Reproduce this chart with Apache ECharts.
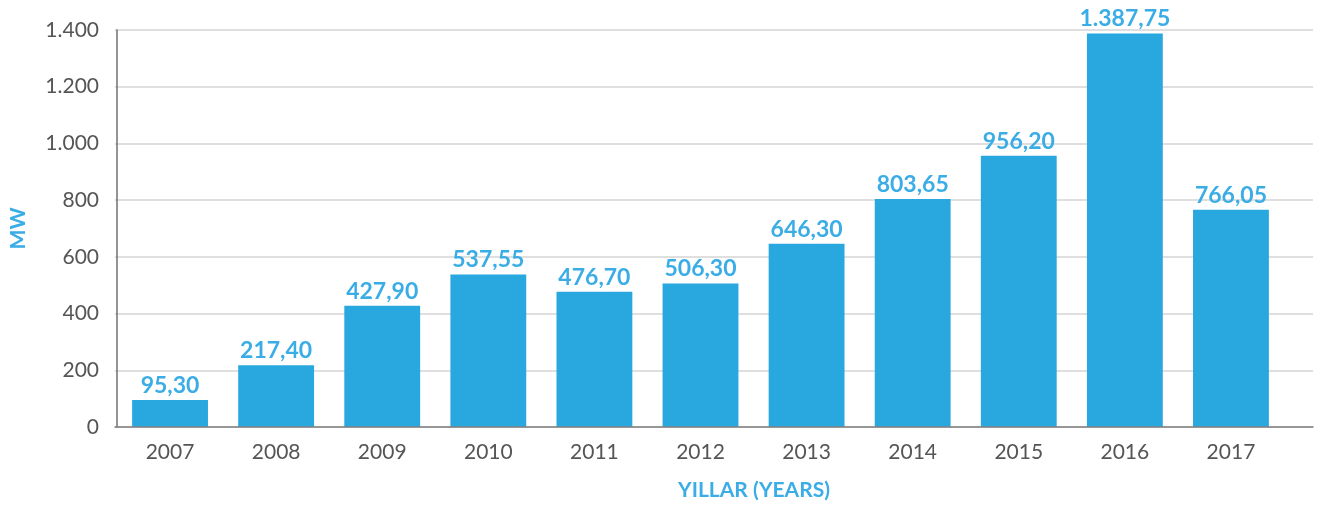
<!DOCTYPE html>
<html>
<head>
<meta charset="utf-8">
<script src="https://cdn.jsdelivr.net/npm/echarts@6/dist/echarts.min.js"></script>
<style>
  html, body { margin: 0; padding: 0; background: #fff; }
  #chart { width: 1323px; height: 509px; }
</style>
</head>
<body>
<div id="chart"></div>
<script>
const years = ['2007', '2008', '2009', '2010', '2011', '2012', '2013', '2014', '2015', '2016', '2017']
const capacity = [95.30, 217.40, 427.90, 537.55, 476.70, 506.30, 646.30, 803.65, 956.20, 1387.75, 766.05]
const blue = '#29a8e0'
const labelBlue = '#3aade6'

// turkish style numbers: 1.387,75
const fmtTr = (v, dec) => {
  let parts = Number(v).toFixed(dec).split('.')
  parts[0] = parts[0].replace(/\B(?=(\d{3})+(?!\d))/g, '.')
  return dec ? parts[0] + ',' + parts[1] : parts[0]
}

const myChart = echarts.init(document.getElementById('chart'))
let option = {
  animation: false,
  textStyle: { fontFamily: 'Lato' },
  grid: [
    // bars
    { left: 115, right: 39, top: 30, bottom: 82 },
    // gridlines + x axis line run a bit further right than the bars
    { left: 115, right: 10, top: 30, bottom: 82 }
  ],
  xAxis: [
    {
      type: 'category',
      gridIndex: 0,
      data: years,
      name: 'YILLAR (YEARS)',
      nameLocation: 'middle',
      nameGap: 53,
      nameTextStyle: { color: labelBlue, fontWeight: 'bold', fontSize: 21, fontFamily: 'Lato', padding: [0, 0, 0, 107] },
      axisLine: { show: false },
      axisTick: { show: false },
      axisLabel: { color: '#555', fontSize: 21, margin: 15 }
    },
    {
      type: 'value',
      gridIndex: 1,
      axisLine: { show: true, lineStyle: { color: '#808080', width: 1.5 } },
      axisTick: { show: false },
      axisLabel: { show: false },
      splitLine: { show: false },
      z: 3
    }
  ],
  yAxis: [
    {
      type: 'value',
      gridIndex: 0,
      min: 0,
      max: 1400,
      interval: 200,
      name: 'MW',
      nameLocation: 'middle',
      nameGap: 88,
      nameTextStyle: { color: labelBlue, fontWeight: 'bold', fontSize: 21, fontFamily: 'Lato' },
      axisLine: { show: true, lineStyle: { color: '#707070', width: 1.5 } },
      axisLabel: { color: '#555', fontSize: 21, margin: 18, formatter: (v) => fmtTr(v, 0) },
      splitLine: { show: false },
      z: 3
    },
    {
      type: 'value',
      gridIndex: 1,
      min: 0,
      max: 1400,
      interval: 200,
      axisLine: { show: false },
      axisTick: { show: false },
      axisLabel: { show: false },
      splitLine: { lineStyle: { color: '#d4d4d4', width: 1.5 } }
    }
  ],
  series: [
    {
      type: 'bar',
      xAxisIndex: 0,
      yAxisIndex: 0,
      data: capacity,
      barWidth: '71.5%',
      itemStyle: { color: blue },
      label: {
        show: true,
        position: 'top',
        distance: 3,
        color: labelBlue,
        fontWeight: 'bold',
        fontSize: 23,
        formatter: (p) => fmtTr(p.value, 2)
      }
    }
  ]
}
myChart.setOption(option)
</script>
</body>
</html>
